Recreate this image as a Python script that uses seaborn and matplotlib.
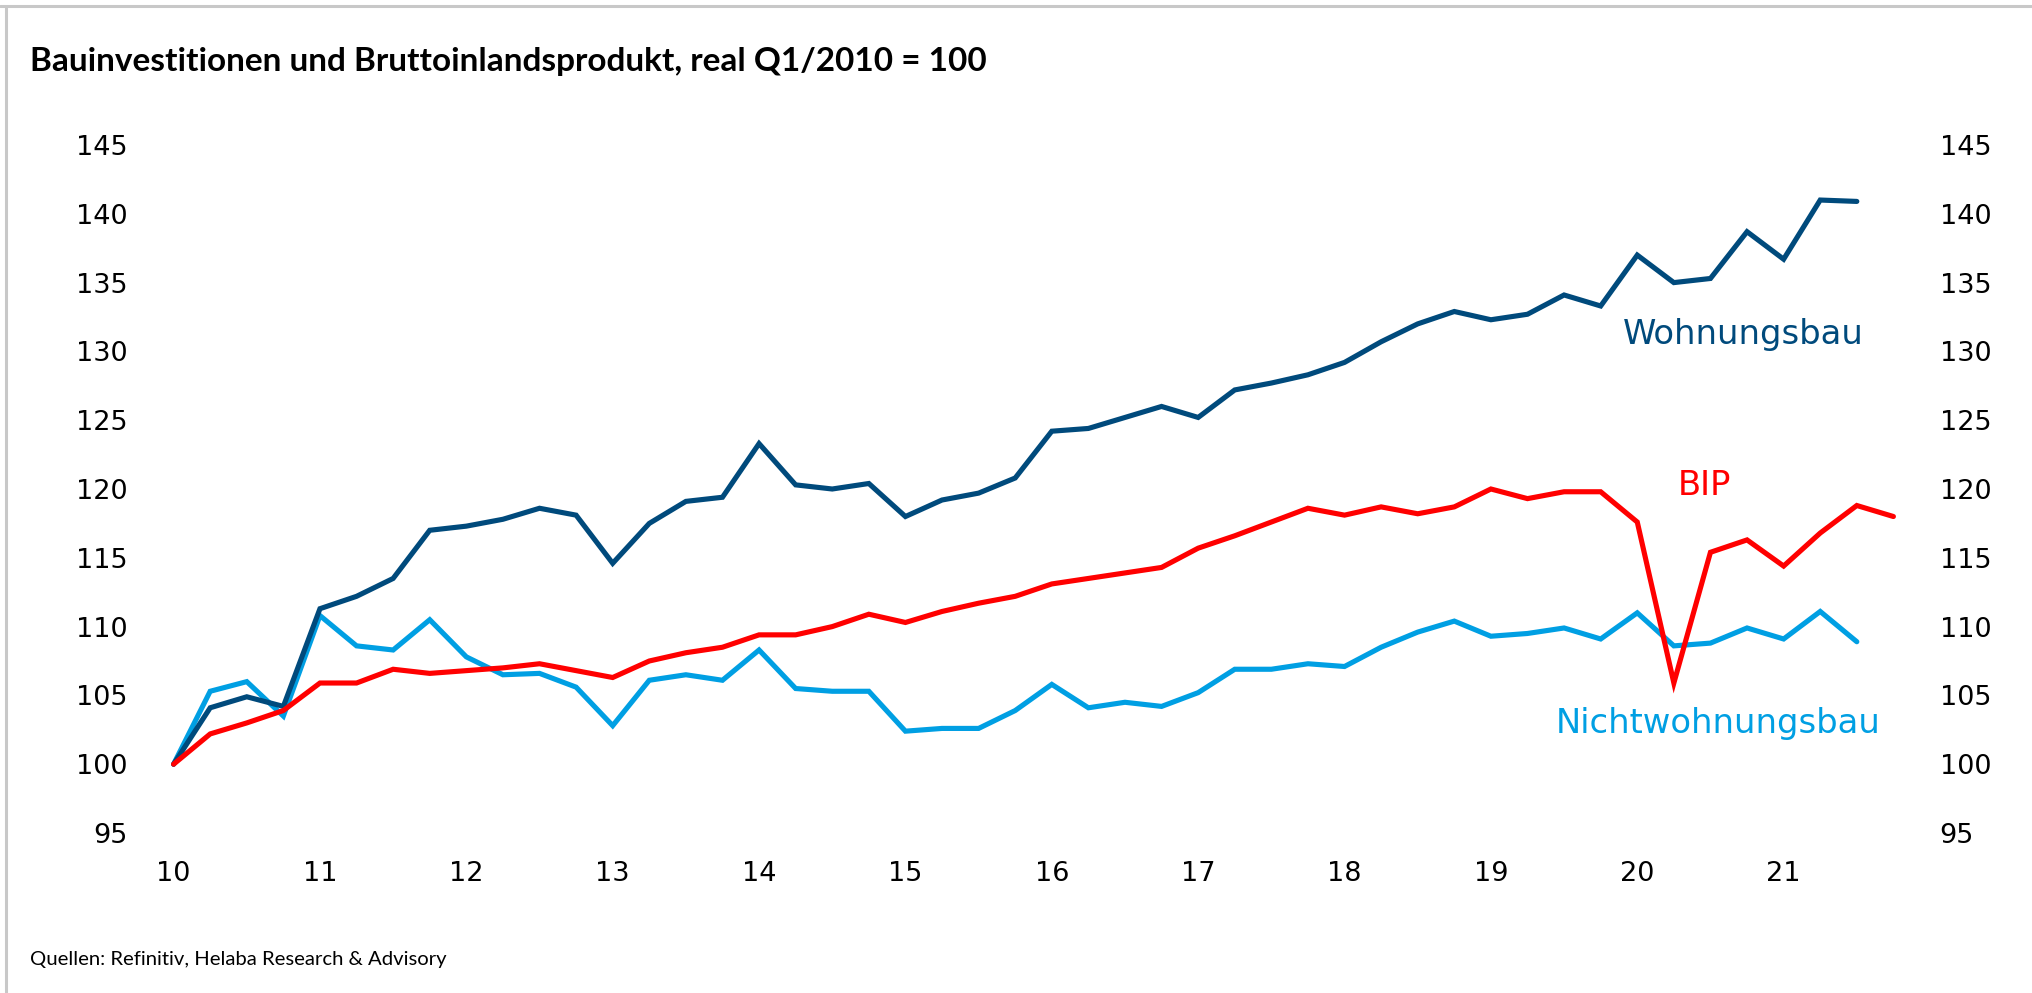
import matplotlib
matplotlib.use("Agg")
import matplotlib.pyplot as plt
import seaborn as sns
import pandas as pd
import numpy as np

# ---------------- data (quarterly, Q1/2010 = 100) ----------------
quarters_bip = [2010 + i * 0.25 for i in range(48)]          # Q1/2010 .. Q4/2021
quarters_bau = quarters_bip[:47]                             # Q1/2010 .. Q3/2021

wohnungsbau = [
    100.0, 104.1, 104.9, 104.2,
    111.3, 112.2, 113.5, 117.0,
    117.3, 117.8, 118.6, 118.1,
    114.6, 117.5, 119.1, 119.4,
    123.3, 120.3, 120.0, 120.4,
    118.0, 119.2, 119.7, 120.8,
    124.2, 124.4, 125.2, 126.0,
    125.2, 127.2, 127.7, 128.3,
    129.2, 130.7, 132.0, 132.9,
    132.3, 132.7, 134.1, 133.3,
    137.0, 135.0, 135.3, 138.7,
    136.7, 141.0, 140.9,
]
nichtwohnungsbau = [
    100.0, 105.3, 106.0, 103.5,
    110.8, 108.6, 108.3, 110.5,
    107.8, 106.5, 106.6, 105.6,
    102.8, 106.1, 106.5, 106.1,
    108.3, 105.5, 105.3, 105.3,
    102.4, 102.6, 102.6, 103.9,
    105.8, 104.1, 104.5, 104.2,
    105.2, 106.9, 106.9, 107.3,
    107.1, 108.5, 109.6, 110.4,
    109.3, 109.5, 109.9, 109.1,
    111.0, 108.6, 108.8, 109.9,
    109.1, 111.1, 108.9,
]
bip = [
    100.0, 102.2, 103.0, 103.9,
    105.9, 105.9, 106.9, 106.6,
    106.8, 107.0, 107.3, 106.8,
    106.3, 107.5, 108.1, 108.5,
    109.4, 109.4, 110.0, 110.9,
    110.3, 111.1, 111.7, 112.2,
    113.1, 113.5, 113.9, 114.3,
    115.7, 116.6, 117.6, 118.6,
    118.1, 118.7, 118.2, 118.7,
    120.0, 119.3, 119.8, 119.8,
    117.6, 105.9, 115.4, 116.3,
    114.4, 116.8, 118.8, 118.0,
]

x_ticks = list(range(2010, 2022))
x_tick_labels = [str(y % 100) for y in x_ticks]
y_ticks = [95, 100, 105, 110, 115, 120, 125, 130, 135, 140, 145]

title = "Bauinvestitionen und Bruttoinlandsprodukt, real Q1/2010 = 100"
source = "Quellen: Refinitiv, Helaba Research & Advisory"

c_wohn = "#004A7C"
c_nicht = "#009FE3"
c_bip = "#FF0000"

# ---------------- figure ----------------
sns.set_theme(style="white")
plt.rcParams["font.family"] = ["DejaVu Sans"]

W, H = 2032, 993
fig = plt.figure(figsize=(W / 100, H / 100), dpi=100)
fig.patch.set_facecolor("white")

ax = fig.add_axes([137 / W, (H - 833) / H, (1930 - 137) / W, (833 - 145) / H])

df_w = pd.DataFrame({"x": quarters_bau, "y": wohnungsbau})
df_n = pd.DataFrame({"x": quarters_bau, "y": nichtwohnungsbau})
df_b = pd.DataFrame({"x": quarters_bip, "y": bip})

lw = 3.7
sns.lineplot(data=df_n, x="x", y="y", ax=ax, color=c_nicht, lw=lw, solid_joinstyle="miter")
sns.lineplot(data=df_w, x="x", y="y", ax=ax, color=c_wohn, lw=lw, solid_joinstyle="miter")
sns.lineplot(data=df_b, x="x", y="y", ax=ax, color=c_bip, lw=lw, solid_joinstyle="miter")

ax.set_xlim(2009.75, 2022.0)
ax.set_ylim(95, 145)
ax.set_xlabel("")
ax.set_ylabel("")
ax.set_xticks(x_ticks)
ax.set_xticklabels(x_tick_labels)
ax.set_yticks(y_ticks)
ax.set_yticklabels([str(v) for v in y_ticks])
ax.tick_params(axis="x", length=0, pad=20, labelsize=19.5, colors="black")
ax.tick_params(axis="y", length=0, pad=7, labelsize=19.5, colors="black")
for s in ax.spines.values():
    s.set_visible(False)
ax.grid(False)

ax2 = ax.twinx()
ax2.set_ylim(95, 145)
ax2.set_yticks(y_ticks)
ax2.set_yticklabels([str(v) for v in y_ticks])
ax2.tick_params(axis="y", length=0, pad=7, labelsize=19.5, colors="black")
for s in ax2.spines.values():
    s.set_visible(False)
ax2.grid(False)

# series labels
ax.text(2019.905, 131.2, "Wohnungsbau", color=c_wohn, fontsize=24.3, va="center", ha="left")
ax.text(2020.28, 120.27, "BIP", color=c_bip, fontsize=24.3, va="center", ha="left")
ax.text(2019.44, 102.94, "Nichtwohnungsbau", color=c_nicht, fontsize=24.3, va="center", ha="left")

# title and source
fig.text(30 / W, 1 - 61 / H, title, fontsize=24, fontweight="bold", family=["Lato", "DejaVu Sans"],
         va="center", ha="left", color="black")
fig.text(30 / W, 1 - 959 / H, source, fontsize=14.6, family=["Lato", "DejaVu Sans"],
         va="center", ha="left", color="black")

# light frame lines at top and left
fig.add_artist(plt.Line2D([0, 1], [1 - 6 / H, 1 - 6 / H], transform=fig.transFigure, color="#C8C8C8", lw=2.2))
fig.add_artist(plt.Line2D([6 / W, 6 / W], [0, 1 - 6 / H], transform=fig.transFigure, color="#C8C8C8", lw=2.2))

fig.savefig("out.png", dpi=100, facecolor="white")
